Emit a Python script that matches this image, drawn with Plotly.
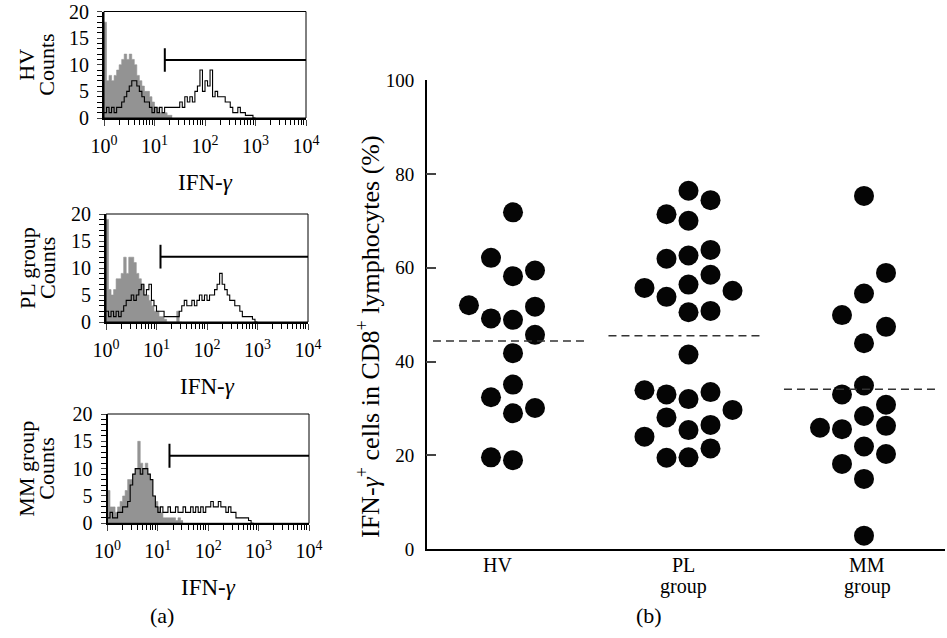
import numpy as np
import plotly.graph_objects as go

W, H = 947, 638
FONT = "Liberation Serif"

# ---------------- data: panel (a) histograms (counts per 1/20-decade channel) ----------------
BIN_LOG = 0.05
hv_ctrl = [18, 7, 8, 7, 8, 9, 10, 11, 12, 11, 12, 11, 10, 8, 7, 6, 5, 5, 4, 3, 2, 2, 1, 1, 1, 0.5, 0.5]
hv_ifn = [1, 2, 1, 2, 1, 2, 2, 3, 4, 5, 6, 7, 7, 6, 5, 4, 3, 3, 2, 1, 2, 1, 2, 1, 2, 2, 2, 2, 2, 2,
          3, 2, 4, 3, 4, 3, 5, 6, 9, 5, 7, 6, 9, 4, 5, 4, 4, 4, 3, 3, 2, 1, 1, 2, 1, 1, 0.5, 0.5, 0.5, 0]
pl_ctrl = [19, 6, 5, 6, 8, 8, 9, 12, 9, 12, 12, 11, 9, 8, 7, 5, 5, 4, 3, 2, 2, 1, 1, 0.5, 0, 0, 0, 0, 2, 0]
pl_ifn = [2, 1, 2, 1, 2, 1, 2, 3, 4, 4, 5, 4, 5, 6, 7, 5, 6, 7, 4, 3, 2, 2, 2, 1, 1, 1, 1, 1, 1, 2,
          3, 4, 3, 3, 4, 3, 4, 5, 4, 5, 4, 5, 5, 6, 7, 9, 7, 6, 5, 4, 4, 3, 3, 2, 1, 1, 1, 1, 0.5, 0]
mm_ctrl = [6, 3, 3, 2, 3, 4, 5, 6, 8, 8, 9, 10, 15, 11, 10, 11, 9, 8, 5, 4, 3, 2, 1, 1, 1, 1, 1, 0.5, 1, 0.5]
mm_ifn = [1, 2, 1, 1, 2, 2, 3, 3, 4, 7, 9, 10, 10, 9, 10, 10, 9, 8, 5, 3, 2, 3, 2, 2, 3, 2, 2, 3, 2, 2,
          3, 2, 2, 3, 2, 3, 2, 3, 2, 3, 3, 4, 3, 3, 4, 3, 3, 2, 3, 2, 2, 1, 1, 1, 1, 1, 0.5, 0]
hist_names = ["HV", "PL group", "MM group"]
gate_start = [16, 12, 17]          # IFN-γ gate lower bound
gate_level = [10.9, 12.1, 12.35]   # counts level of gate bar
y_ticks_a = [0, 5, 10, 15, 20]
x_ticks_a = [1, 10, 100, 1000, 10000]
x_ticktext_a = ["10<sup>0</sup>", "10<sup>1</sup>", "10<sup>2</sup>", "10<sup>3</sup>", "10<sup>4</sup>"]

# ---------------- data: panel (b) ----------------
groups = [["HV"], ["PL", "group"], ["MM", "group"]]
hv_vals = [71.8, 62.1, 58.2, 59.4, 52.0, 51.7, 49.2, 48.9, 45.7, 41.8, 35.1, 32.4, 30.1, 29.0, 19.6, 19.0]
hv_slot = [0, -1, 0, 1, -2, 1, -1, 0, 1, 0, 0, -1, 1, 0, -1, 0]
pl_vals = [76.4, 74.4, 71.4, 70.0, 63.8, 61.9, 62.6, 58.5, 55.7, 53.8, 56.4, 55.1, 50.5, 50.8, 41.5,
           33.9, 33.0, 32.0, 33.5, 29.7, 28.1, 25.4, 26.5, 24.0, 19.5, 19.6, 21.5]
pl_slot = [0, 1, -1, 0, 1, -1, 0, 1, -2, -1, 0, 2, 0, 1, 0,
           -2, -1, 0, 1, 2, -1, 0, 1, -2, -1, 0, 1]
mm_vals = [75.3, 58.9, 54.5, 49.9, 47.4, 43.9, 34.9, 33.0, 30.8, 28.4, 25.9, 25.6, 26.3, 21.9, 20.3, 18.2, 15.0, 2.9]
mm_slot = [0, 1, 0, -1, 1, 0, 0, -1, 1, 0, -2, -1, 1, 0, 1, -1, 0, 0]
group_means = [44.4, 45.5, 34.1]
y_ticks_b = [0, 20, 40, 60, 80, 100]

# ---------------- layout helpers (pixel -> paper fraction) ----------------
def fx(p):
    return p / W

def fy(p):
    return 1 - p / H

def px_x(a, b):
    return [fx(a), fx(b)]

def px_y(top, bottom):
    return [fy(bottom), fy(top)]

hist_boxes = [(104, 306, 11.5, 118), (106, 308, 214, 322), (107.5, 309, 414, 523.3)]
scatter_box = (426.7, 945, 80, 549.3)

fig = go.Figure()

minor_x = [m * 10 ** k for k in range(4) for m in range(2, 10)]
minor_y = [v for v in range(0, 21) if v not in y_ticks_a]

hist_sets = [(hv_ctrl, hv_ifn), (pl_ctrl, pl_ifn), (mm_ctrl, mm_ifn)]
layout = {}
annotations = []
shapes = []
tick_font = dict(family=FONT, size=19, color="black")
tick_font_a = dict(family=FONT, size=20, color="black")
lab_font = dict(family=FONT, size=22, color="black")

def add_text(text, x, y, font=lab_font, angle=0):
    annotations.append(dict(text=text, xref="paper", yref="paper", x=fx(x), y=fy(y), showarrow=False,
                            font=font, xanchor="center", yanchor="middle", textangle=angle, borderpad=0))

for i, ((ctrl, ifn), box) in enumerate(zip(hist_sets, hist_boxes)):
    xa = "x" if i == 0 else f"x{i+1}"
    ya = "y" if i == 0 else f"y{i+1}"
    xkey = "xaxis" if i == 0 else f"xaxis{i+1}"
    ykey = "yaxis" if i == 0 else f"yaxis{i+1}"
    ec = 10 ** (BIN_LOG * np.arange(len(ctrl) + 1))
    yc = list(ctrl) + [ctrl[-1]]
    fig.add_trace(go.Scatter(x=ec, y=yc, mode="lines", line=dict(shape="hv", width=0.6, color="#939393"),
                             fill="tozeroy", fillcolor="#939393", xaxis=xa, yaxis=ya, showlegend=False,
                             hoverinfo="skip"))
    ei = 10 ** (BIN_LOG * np.arange(len(ifn) + 1))
    yi = list(ifn) + [ifn[-1]]
    fig.add_trace(go.Scatter(x=ei, y=yi, mode="lines", line=dict(shape="hv", width=1.1, color="black"),
                             xaxis=xa, yaxis=ya, showlegend=False, hoverinfo="skip"))
    # gate
    g0, gl = gate_start[i], gate_level[i]
    fig.add_trace(go.Scatter(x=[g0, 10000], y=[gl, gl], mode="lines", line=dict(width=2, color="black"),
                             xaxis=xa, yaxis=ya, showlegend=False, hoverinfo="skip"))
    fig.add_trace(go.Scatter(x=[g0, g0], y=[gl - 2.2, gl + 2.2], mode="lines", line=dict(width=2, color="black"),
                             xaxis=xa, yaxis=ya, showlegend=False, hoverinfo="skip"))
    x0, x1, t, b = box
    layout[xkey] = dict(domain=px_x(x0, x1), type="log", range=[0, 4], anchor=ya,
                        tickvals=x_ticks_a, ticktext=x_ticktext_a, ticks="outside", ticklen=6, tickwidth=1.3,
                        minor=dict(tickvals=minor_x, ticks="outside", ticklen=5, tickwidth=1.3, tickcolor="black"),
                        showline=True, linewidth=2, linecolor="black", showgrid=False, zeroline=False,
                        tickfont=tick_font_a, ticklabelstandoff=3, ticklabeloverflow="allow", fixedrange=True)
    layout[ykey] = dict(domain=px_y(t, b), range=[0, 20], anchor=xa,
                        tickvals=y_ticks_a, ticks="outside", ticklen=5, tickwidth=1.3,
                        minor=dict(tickvals=minor_y, ticks="outside", ticklen=5, tickwidth=1.3, tickcolor="black"),
                        showline=True, linewidth=2, linecolor="black", showgrid=False, zeroline=False,
                        tickfont=tick_font_a, ticklabelstandoff=4, ticklabeloverflow="allow", fixedrange=True)
    shapes.append(dict(type="rect", xref=f"{xa} domain", yref=f"{ya} domain", x0=0, x1=1, y0=0, y1=1,
                       line=dict(color="black", width=1)))
    mid = (t + b) / 2
    add_text(hist_names[i], 27, mid, angle=-90)
    add_text("Counts", 47, mid, angle=-90)
    add_text("IFN-<i>γ</i>", (x0 + x1) / 2, b + 64, font=dict(family=FONT, size=23, color="black"))

# ---------------- panel (b) scatter ----------------
SLOT = 0.1254
sx0, sx1, st, sb = scatter_box
for gi, (vals, slots) in enumerate([(hv_vals, hv_slot), (pl_vals, pl_slot), (mm_vals, mm_slot)]):
    xs = [gi + s * SLOT for s in slots]
    fig.add_trace(go.Scatter(x=xs, y=vals, mode="markers", marker=dict(size=20, color="#050505", line=dict(width=0)),
                             xaxis="x4", yaxis="y4", showlegend=False, hoverinfo="skip"))
    fig.add_trace(go.Scatter(x=[gi - 0.456, gi + 0.427], y=[group_means[gi]] * 2, mode="lines",
                             line=dict(color="#333333", width=1.5, dash="8px,5px"),
                             xaxis="x4", yaxis="y4", showlegend=False, hoverinfo="skip"))

layout["xaxis4"] = dict(domain=px_x(sx0, sx1), range=[-0.4917, 2.4615], anchor="y4", showline=True, linewidth=1.5,
                        linecolor="black", showticklabels=False, ticks="", showgrid=False, zeroline=False, fixedrange=True)
layout["yaxis4"] = dict(domain=px_y(st, sb), range=[0, 100], anchor="x4", tickvals=y_ticks_b, ticks="inside",
                        ticklen=10, tickwidth=1.5, showline=True, linewidth=1.5, linecolor="black",
                        showgrid=False, zeroline=False, tickfont=tick_font, ticklabelstandoff=7, fixedrange=True)

label_x = [497, 683, 867]
for gi, lines in enumerate(groups):
    for li, line in enumerate(lines):
        add_text(line, label_x[gi], 565 + li * 21, font=dict(family=FONT, size=20, color="black"))

add_text("IFN-<i>γ</i><sup>+</sup> cells in CD8<sup>+</sup> lymphocytes (%)", 368, 337,
         font=dict(family=FONT, size=26, color="black"), angle=-90)
add_text("(a)", 162, 615)
add_text("(b)", 649, 615)

fig.update_layout(width=W, height=H, margin=dict(l=0, r=0, t=0, b=0, autoexpand=False),
                  paper_bgcolor="white", plot_bgcolor="white",
                  annotations=annotations, shapes=shapes, showlegend=False, **layout)
# remove the browser's default 8px page margin so the figure fills the window exactly
fig.write_html("out.html", config={"displayModeBar": False},
               post_script="document.body.style.margin='0px';")
